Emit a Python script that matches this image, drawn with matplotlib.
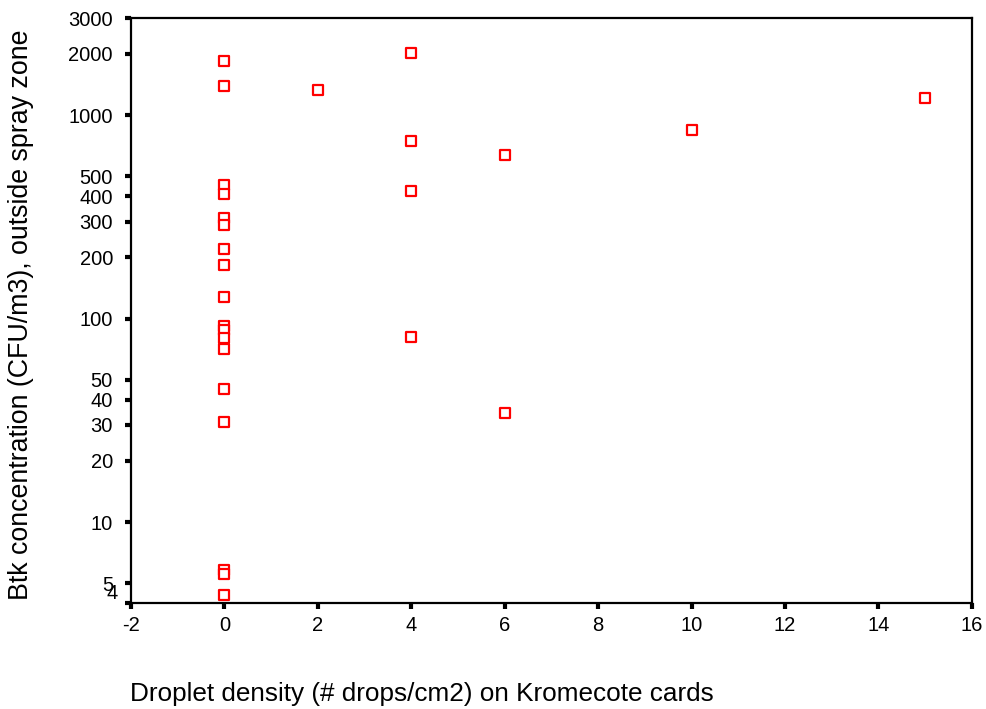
import matplotlib
matplotlib.use("Agg")
import matplotlib.pyplot as plt
from matplotlib.ticker import FixedLocator, NullLocator
import matplotlib.transforms as mtransforms

plt.rcParams["font.family"] = ["Liberation Sans", "DejaVu Sans"]

# droplet density (# drops/cm2) and Btk concentration (CFU/m3)
droplet_density: list[float] = [
    0, 0, 0, 0, 0, 0, 0, 0, 0, 0, 0, 0, 0, 0, 0, 0, 0, 0,
    2,
    4, 4, 4, 4,
    6, 6,
    10,
    15,
]
btk_concentration: list[float] = [
    1845, 1390, 452, 408, 311, 287, 219, 184, 127, 92, 88, 80, 71, 45, 31, 5.8, 5.55, 4.37,
    1328,
    2020, 747, 422, 81,
    640, 34.3,
    844,
    1213,
]

X_TICKS: list[int] = [-2, 0, 2, 4, 6, 8, 10, 12, 14, 16]
Y_TICKS: list[int] = [4, 5, 10, 20, 30, 40, 50, 100, 200, 300, 400, 500, 1000, 2000, 3000]


def main() -> None:
    fig = plt.figure(figsize=(9.87, 7.09), dpi=100)
    ax = fig.add_axes([0.1327, 0.1495, 0.852, 0.825])

    ax.scatter(
        droplet_density,
        btk_concentration,
        marker="s",
        s=48,
        facecolors="white",
        edgecolors="#ff0000",
        linewidths=1.6,
        zorder=3,
        clip_on=False,
    )

    ax.set_yscale("log")
    ax.set_xlim(-2, 16)
    ax.set_ylim(4, 3000)

    ax.xaxis.set_major_locator(FixedLocator(X_TICKS))
    ax.set_xticklabels([str(t) for t in X_TICKS])
    ax.yaxis.set_major_locator(FixedLocator(Y_TICKS))
    ax.yaxis.set_minor_locator(NullLocator())
    ax.set_yticklabels(["" if t == 4 else str(t) for t in Y_TICKS])

    ax.tick_params(axis="both", direction="out", length=4, width=3,
                   labelsize=14.5, color="black")
    ax.tick_params(axis="y", pad=9)
    ax.tick_params(axis="x", pad=5)

    for spine in ax.spines.values():
        spine.set_linewidth(1.6)
        spine.set_color("black")

    # the "4" label is nudged up in the original to keep clear of the x axis
    offset = mtransforms.offset_copy(ax.get_yaxis_transform(), fig=fig,
                                     x=-13, y=10, units="dots")
    ax.text(0, 4, "4", transform=offset, ha="right", va="center", fontsize=14.5)

    fig.text(0.132, 0.011, "Droplet density (# drops/cm2) on Kromecote cards",
             ha="left", va="baseline", fontsize=18.8)
    fig.text(0.021, 0.556, "Btk concentration (CFU/m3), outside spray zone",
             ha="center", va="center", rotation=90, fontsize=19.3)

    fig.savefig("out.png", dpi=100)


if __name__ == "__main__":
    main()
